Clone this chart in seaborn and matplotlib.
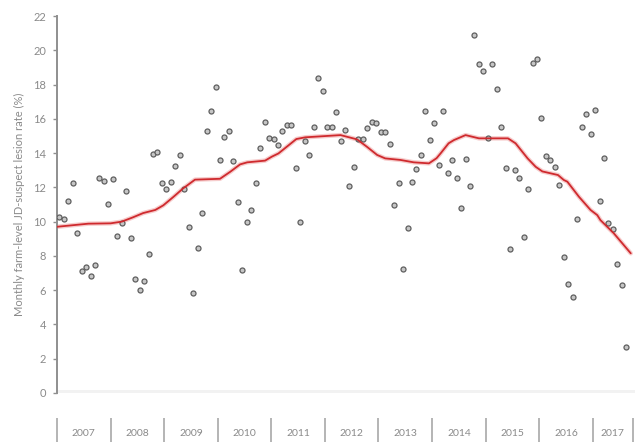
import matplotlib
matplotlib.use("Agg")
import matplotlib.pyplot as plt
import numpy as np
import pandas as pd
import seaborn as sns

# Monthly farm-level JD-suspect lesion rate (%), Jan 2007 - Aug 2017
rate_2007 = [10.27, 10.15, 11.2, 12.27, 9.35, 7.14, 7.37, 6.83, 7.49, 12.52, 12.37, 11.03]
rate_2008 = [12.49, 9.16, 9.9, 11.8, 9.06, 6.67, 6.01, 6.52, 8.11, 13.94, 14.08, 12.24]
rate_2009 = [11.9, 12.33, 13.26, 13.89, 11.89, 9.67, 5.85, 8.48, 10.52, 15.29, 16.45, 17.84]
rate_2010 = [13.61, 14.94, 15.29, 13.52, 11.13, 7.16, 10.0, 10.66, 12.25, 14.28, 15.79, 14.9]
rate_2011 = [14.82, 14.49, 15.29, 15.62, 15.64, 13.15, 9.96, 14.7, 13.87, 15.52, 18.38, 17.62]
rate_2012 = [15.52, 15.52, 16.39, 14.68, 15.36, 12.08, 13.17, 14.84, 14.84, 15.44, 15.83, 15.74]
rate_2013 = [15.21, 15.21, 14.53, 10.97, 12.25, 7.22, 9.61, 12.31, 13.09, 13.89, 16.47, 14.74]
rate_2014 = [15.77, 13.32, 16.45, 12.84, 13.6, 12.53, 10.8, 13.66, 12.1, 20.9, 19.17, 18.81]
rate_2015 = [14.88, 19.21, 17.76, 15.5, 13.11, 8.43, 12.99, 12.53, 9.12, 11.91, 19.28, 19.5]
rate_2016 = [16.03, 13.81, 13.61, 13.2, 12.16, 7.93, 6.38, 5.58, 10.14, 15.5, 16.28, 15.11]
rate_2017 = [16.52, 11.18, 13.71, 9.92, 9.56, 7.53, 6.31, 2.67]

years = [2007, 2008, 2009, 2010, 2011, 2012, 2013, 2014, 2015, 2016, 2017]
yearly_rates = [rate_2007, rate_2008, rate_2009, rate_2010, rate_2011, rate_2012,
                rate_2013, rate_2014, rate_2015, rate_2016, rate_2017]
months_in_2017_panel = 9  # last year block ends after September

# Smoothed trend (months since Jan 2007, rate %)
trend_month = [0, 7, 12, 14.5, 17, 19.3, 22, 23.8, 26.1, 28.2, 30.9, 36.5, 38.8, 41,
               42.6, 46.6, 48.1, 49.6, 53.6, 55.6, 63.5, 67.2, 69.4, 71.7, 73.5, 76.9,
               79.9, 83.3, 85, 85.9, 87.7, 88.9, 91.5, 94.5, 96.7, 101, 102.7, 105.4,
               107.2, 108.7, 112.2, 113.5, 114.3, 116.9, 119.5, 121, 121.7, 124.7, 128.5]
trend_rate = [9.7, 9.88, 9.9, 10.0, 10.25, 10.5, 10.68, 10.95, 11.45, 11.93, 12.45, 12.5,
              12.91, 13.34, 13.46, 13.56, 13.79, 13.98, 14.82, 14.92, 15.05, 14.8, 14.37,
              13.89, 13.69, 13.6, 13.46, 13.4, 13.7, 13.98, 14.57, 14.76, 15.05, 14.86,
              14.86, 14.86, 14.57, 13.69, 13.2, 12.93, 12.72, 12.43, 12.33, 11.45, 10.68,
              10.38, 10.09, 9.32, 8.15]

rows = []
for yr, vals in zip(years, yearly_rates):
    for i, v in enumerate(vals):
        rows.append({"month": (yr - years[0]) * 12 + i + 0.5, "rate": v})
points = pd.DataFrame(rows)
trend = pd.DataFrame({"month": trend_month, "rate": trend_rate})

sns.set_theme(style="white")
plt.rcParams["font.family"] = ["Lato", "DejaVu Sans"]

fig = plt.figure(figsize=(6.35, 4.42), dpi=100)
ax = fig.add_axes([0.0898, 0.1109, 0.9102, 0.8529])

sns.scatterplot(data=points, x="month", y="rate", ax=ax, s=13,
                color="#c6c6c6", edgecolor="#5e5e5e", linewidth=0.9, zorder=3)
# soft halo beneath the trend line
sns.lineplot(data=trend, x="month", y="rate", ax=ax, color="#f6cccc",
             linewidth=3.2, zorder=2, estimator=None, sort=False)
sns.lineplot(data=trend, x="month", y="rate", ax=ax, color="#cf2a2e",
             linewidth=1.3, zorder=4, estimator=None, sort=False)

ax.axhline(0, color="#f2f2f2", linewidth=5, zorder=0)

n_months = (len(years) - 1) * 12 + months_in_2017_panel
ax.set_xlim(0, 129.45)
ax.set_ylim(0, 22)
ax.set_yticks(np.arange(0, 23, 2))

# year blocks under the plot
bounds = [(y - years[0]) * 12 for y in years] + [n_months]
centers = [(a + b) / 2 for a, b in zip(bounds[:-1], bounds[1:])]
ax.set_xticks(bounds)
ax.set_xticklabels([])
ax.set_xticks(centers, minor=True)
ax.set_xticklabels([str(y) for y in years], minor=True)
ax.spines["bottom"].set_position(("outward", 18))
ax.spines["bottom"].set_visible(False)
ax.tick_params(axis="x", which="major", bottom=True, direction="out", length=18,
               width=1.1, color="#a0a0a0")
ax.tick_params(axis="x", which="minor", bottom=True, length=0, pad=8,
               labelsize=7.5, labelcolor="#8a8a8a")

for side in ["top", "right"]:
    ax.spines[side].set_visible(False)
ax.spines["left"].set_color("#8f8f8f")
ax.spines["left"].set_linewidth(1.4)
ax.tick_params(axis="y", direction="out", length=3, width=1.0, color="#8f8f8f",
               labelsize=8, labelcolor="#8a8a8a", pad=5, left=True)

ax.set_xlabel("")
ax.set_ylabel("Monthly farm-level JD-suspect lesion rate (%)", fontsize=8,
              color="#8a8a8a", labelpad=6)

fig.savefig("out.png", dpi=100)
